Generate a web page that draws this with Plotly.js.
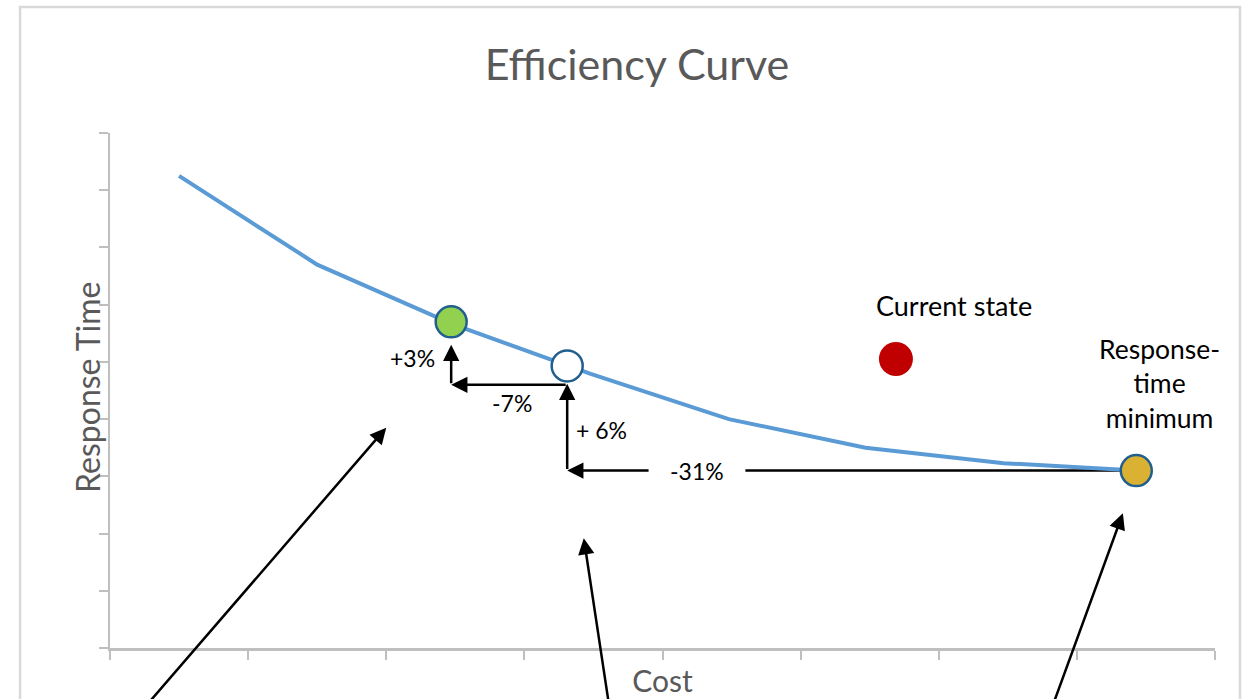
<!DOCTYPE html>
<html>
<head>
<meta charset="utf-8">
<script src="https://cdn.plot.ly/plotly-3.0.1.min.js"></script>
<style>
  html, body { margin: 0; padding: 0; background: #ffffff; }
  #chart { width: 1244px; height: 699px; }
</style>
</head>
<body>
<div id="chart"></div>
<script>
// Efficiency curve: cost (x) against response time (y), in tick units
const curveCost = [0.5, 1.5, 2.48, 3.48, 4.48, 5.47, 6.47, 7.43];
const curveTime = [8.25, 6.70, 5.66, 4.79, 4.00, 3.50, 3.23, 3.10];

// Highlighted positions
const greenPoint = { cost: 2.47, time: 5.70 };
const whitePoint = { cost: 3.31, time: 4.93 };
const currentState = { cost: 5.69, time: 5.05 };
const minimumPoint = { cost: 7.43, time: 3.10 };

// Step labels
const stepLabels = ['+3%', '-7%', '+ 6%', '-31%'];
const currentLabel = 'Current state';
const minimumLabel = 'Response-<br>time<br>minimum';

const FONT = 'Lato, "Open Sans", sans-serif';
const AXIS_GREY = '#BFBFBF';
const TEXT_GREY = '#595959';
const RING = '#215F8E';

const traces = [
  {
    x: curveCost, y: curveTime, mode: 'lines', type: 'scatter',
    line: { color: '#5B9BD5', width: 4 }, hoverinfo: 'skip'
  },
  {
    x: [greenPoint.cost], y: [greenPoint.time], mode: 'markers', type: 'scatter',
    marker: { size: 31, color: '#92D050', line: { color: RING, width: 2.5 } }, hoverinfo: 'skip'
  },
  {
    x: [whitePoint.cost], y: [whitePoint.time], mode: 'markers', type: 'scatter',
    marker: { size: 31, color: '#FFFFFF', line: { color: RING, width: 2.5 } }, hoverinfo: 'skip'
  },
  {
    x: [currentState.cost], y: [currentState.time], mode: 'markers', type: 'scatter',
    marker: { size: 34, color: '#C00000', line: { width: 0 } }, hoverinfo: 'skip'
  },
  {
    x: [minimumPoint.cost], y: [minimumPoint.time], mode: 'markers', type: 'scatter',
    marker: { size: 31, color: '#DAB132', line: { color: RING, width: 2.5 } }, hoverinfo: 'skip'
  }
];

// Corner of the step path below the white point
const baseY = minimumPoint.time;
const stepY = 4.60;

function arrow(xTip, yTip, xTail, yTail) {
  return {
    x: xTip, y: yTip, ax: xTail, ay: yTail,
    xref: 'x', yref: 'y', axref: 'x', ayref: 'y',
    text: '', showarrow: true, arrowhead: 2, arrowsize: 1.3,
    arrowwidth: 2.5, arrowcolor: '#000000'
  };
}

function label(text, x, y, size, anchor) {
  return {
    x: x, y: y, xref: 'x', yref: 'y', text: text, showarrow: false,
    xanchor: anchor || 'center', yanchor: 'middle',
    font: { family: FONT, size: size, color: '#000000' }
  };
}

const annotations = [
  // -31%: from the minimum back to the white point's cost
  arrow(whitePoint.cost, baseY, 3.91, baseY),
  // +6%: up to the white point
  arrow(whitePoint.cost, 4.62, whitePoint.cost, baseY),
  // -7%: left to the green point's cost
  arrow(greenPoint.cost, stepY, whitePoint.cost, stepY),
  // +3%: up to the green point
  arrow(greenPoint.cost, 5.30, greenPoint.cost, stepY),
  // pointers coming from below the chart
  arrow(2.0, 3.85, 0.236, -1.08),
  arrow(3.43, 1.92, 3.618, -1.08),
  arrow(7.333, 2.355, 6.814, -1.08),
  label(stepLabels[0], 2.19, 5.06, 23),
  label(stepLabels[1], 2.91, 4.28, 23),
  label(stepLabels[2], 3.36, 3.81, 23, 'left'),
  label(stepLabels[3], 4.25, baseY, 23),
  label(currentLabel, 6.11, 5.98, 27),
  label(minimumLabel, 7.60, 4.62, 26.5),
  // y-axis title
  {
    xref: 'paper', yref: 'paper', x: -0.0199, y: 0.505,
    text: 'Response Time', showarrow: false, textangle: -90,
    xanchor: 'center', yanchor: 'middle',
    font: { family: FONT, size: 32, color: TEXT_GREY }
  }
];

const shapes = [
  // remainder of the -31% line, under the curve
  {
    type: 'line', xref: 'x', yref: 'y', layer: 'below',
    x0: 4.6, x1: 7.32, y0: baseY, y1: baseY,
    line: { color: '#000000', width: 2.5 }
  },
  // chart frame
  {
    type: 'rect', xref: 'paper', yref: 'paper', layer: 'below',
    x0: -0.0814, x1: 1.0226, y0: -0.3, y1: 1.2447,
    line: { color: '#D9D9D9', width: 2.5 }, fillcolor: 'rgba(0,0,0,0)'
  }
];

const axisCommon = {
  showgrid: false, zeroline: false, showticklabels: false,
  showline: true, linecolor: AXIS_GREY, linewidth: 2.5,
  ticks: 'outside', ticklen: 9, tickwidth: 2, tickcolor: AXIS_GREY,
  dtick: 1, tick0: 0, fixedrange: true
};

const layout = {
  width: 1244, height: 699,
  margin: { l: 110, r: 29, t: 133, b: 51 },
  paper_bgcolor: '#FFFFFF', plot_bgcolor: '#FFFFFF',
  showlegend: false,
  title: {
    text: 'Efficiency Curve',
    x: 0.512, xanchor: 'center', xref: 'container',
    y: 0.907, yanchor: 'middle', yref: 'container',
    font: { family: FONT, size: 43, color: TEXT_GREY }
  },
  xaxis: Object.assign({}, axisCommon, {
    range: [0, 8],
    title: { text: 'Cost', standoff: 13, font: { family: FONT, size: 30, color: TEXT_GREY } }
  }),
  yaxis: Object.assign({}, axisCommon, {
    range: [0, 9]
  }),
  annotations: annotations,
  shapes: shapes
};

Plotly.newPlot('chart', traces, layout, { staticPlot: true, displayModeBar: false });
</script>
</body>
</html>
